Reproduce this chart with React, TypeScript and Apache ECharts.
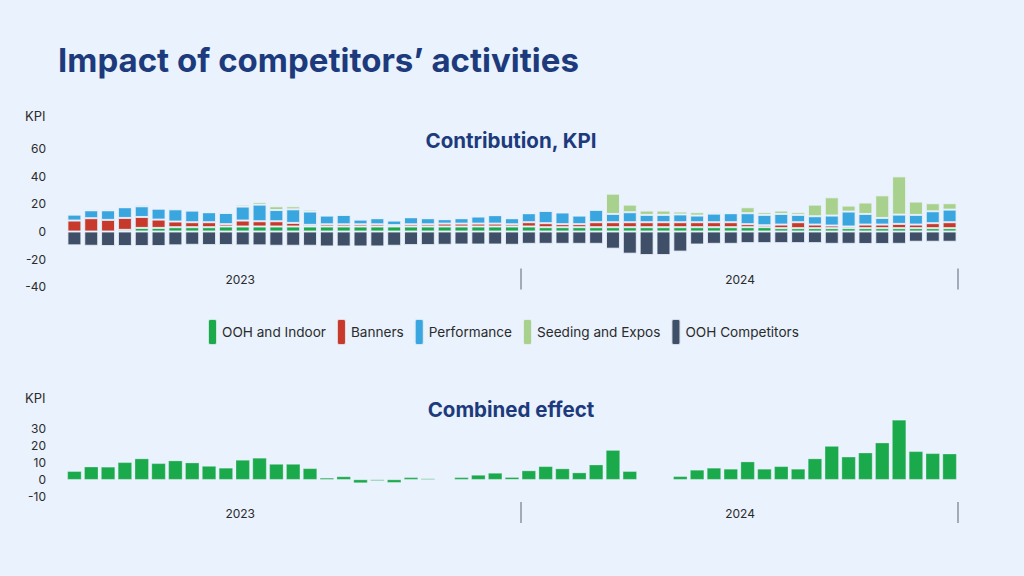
import React, { useEffect, useRef } from "react";
import * as echarts from "echarts";

const yearLabels = ["2023", "2024"];
const yearCounts = [27, 26];
const yearLabelPos = [10.35, 40.05];

const categories = Array.from({ length: 53 }, (_, i) =>
  i < 27 ? `2023-W${i + 26}` : `2024-W${i - 26}`
);

const oohIndoor = [
  0, 0, 0, 1.2, 2.6, 2.6, 3.1, 3.1, 3.1, 3.6, 3.6, 3.6, 3.6, 3.6, 3.6, 3.6, 3.6, 3.6, 3.6, 3.6, 3.6, 3.6, 3.6, 3.6, 3.6, 3.6, 3.6,
  3.6, 3.1, 3.1, 3.1, 3.1, 3.1, 3.1, 3.1, 3.1, 3.1, 3.1, 3.1, 3.1, 3.1, 3.1, 2.4, 2.4, 2.4, 2.4, 2.4, 2.4, 2.4, 2.4, 2.4, 2.4, 2.4,
];
const banners = [
  7.9, 9.6, 8.4, 8.6, 7.9, 6.0, 4.1, 3.6, 3.6, 1.7, 4.3, 3.8, 3.8, 2.6, 1.2, 1.6, 1.6, 1.6, 1.6, 1.0, 1.6, 1.6, 2.1, 2.1, 2.1, 2.1, 1.6,
  3.1, 2.9, 2.2, 2.2, 3.6, 3.6, 3.6, 3.6, 3.6, 3.6, 3.6, 3.6, 3.6, 2.2, 1.4, 2.6, 4.3, 2.6, 1.9, 1.2, 2.6, 2.6, 3.1, 2.6, 3.6, 4.3,
];
const performance = [
  4.3, 5.7, 6.9, 7.7, 7.7, 7.9, 8.8, 8.4, 7.2, 8.1, 10.1, 12.0, 8.1, 9.8, 9.6, 6.3, 6.8, 3.4, 4.4, 3.3, 5.1, 4.4, 3.2, 3.9, 5.1, 6.1, 4.4,
  6.5, 8.9, 8.4, 6.2, 8.9, 6.0, 7.2, 5.3, 5.3, 5.6, 4.8, 6.2, 6.5, 7.9, 7.5, 7.7, 5.3, 6.0, 7.2, 10.8, 7.7, 4.8, 6.7, 7.0, 8.6, 9.1,
];
const seedingExpos = [
  0, 0, 0, 0, 1.2, 0, 1.0, 0, 0, 0, 1.4, 1.9, 2.7, 2.2, 1.4, 0, 0, 0, 0, 0, 0, 0, 0, 0, 0, 0, 0,
  0, 0, 0, 0, 0.4, 14.6, 5.5, 3.1, 3.1, 2.1, 2.4, 1.2, 0, 4.3, 1.9, 2.4, 1.9, 8.4, 13.2, 4.3, 8.2, 16.3, 27.6, 9.6, 5.8, 4.6,
];
const oohCompetitors = [
  -10, -10.3, -10.5, -10.5, -10.5, -10.5, -10, -9.6, -9.8, -9.8, -10, -10, -10.3, -10.3, -10.3, -10.8, -10.8, -10.8, -10.8, -10.3, -9.8, -9.8, -9.6, -9.4, -9.4, -9.4, -9.6,
  -8.9, -8.9, -8.9, -8.9, -8.9, -12.4, -16, -17, -17, -14.5, -9.4, -8.9, -8.9, -8.4, -8.4, -8.4, -8.4, -8.4, -8.9, -8.9, -9, -9, -8.9, -7.4, -7.4, -7.4,
];
const combined = [
  4.9, 7.6, 7.5, 10.2, 12.4, 9.6, 11.2, 10, 8, 6.9, 11.6, 12.8, 9.2, 9.2, 6.6, 1.0, 1.8, -2, -0.7, -1.8, 1.3, 0.6, -0.3, 1.3, 2.7, 3.9, 1.4,
  5.3, 7.8, 6.5, 4.1, 8.8, 17.4, 4.9, 0, 0, 1.9, 5.7, 6.9, 6.3, 10.6, 6.3, 7.8, 6.3, 12.4, 19.8, 13.5, 15.9, 21.8, 35.3, 16.7, 15.5, 15.3,
];

const seriesNames = ["OOH and Indoor", "Banners", "Performance", "Seeding and Expos", "OOH Competitors"];
const seriesColors = ["#1aaa4b", "#c7392b", "#3aa6e0", "#a8d18d", "#3f4f68"];
const seriesData = [oohIndoor, banners, performance, seedingExpos, oohCompetitors];

const topTicks = { min: -40, max: 60, interval: 20 };
const bottomTicks = { min: -10, max: 40, interval: 10 };

const FONT = "Inter, 'Noto Sans', sans-serif";
const BG = "#e9f2fd";
const NAVY = "#1d3b7c";
const TEXT = "#2b2b2b";

export default function App() {
  const ref = useRef<HTMLDivElement>(null);
  useEffect(() => {
    document.body.style.margin = "0";
    const chart = echarts.init(ref.current!, undefined, { renderer: "svg" });
    const total = yearCounts.reduce((a, b) => a + b, 0);
    const boundaries: number[] = [];
    let acc = 0;
    yearCounts.forEach((c) => {
      acc += c;
      boundaries.push(acc);
    });
    const yearAxis = (gridIndex: number, offset: number, margin: number) => ({
      type: "value",
      gridIndex,
      position: "bottom",
      min: 0,
      max: total,
      offset,
      axisLine: { show: false },
      splitLine: { show: false },
      axisTick: {
        show: true,
        customValues: boundaries,
        length: 21,
        lineStyle: { color: "#8a93a1", width: 1.5 },
      },
      axisLabel: {
        customValues: yearLabelPos,
        margin,
        color: TEXT,
        fontSize: 12,
        fontFamily: FONT,
        formatter: (v: number) => {
          let a = 0;
          for (let i = 0; i < yearCounts.length; i++) {
            a += yearCounts[i];
            if (v < a) return yearLabels[i];
          }
          return "";
        },
      },
    });
    const valueAxisLabel = {
      color: TEXT,
      fontSize: 12,
      fontFamily: FONT,
      margin: 20,
    };
    const option: any = {
      animation: false,
      backgroundColor: BG,
      textStyle: { fontFamily: FONT },
      title: [
        {
          text: "Impact of competitors’ activities",
          left: 53,
          top: 38,
          textStyle: { fontSize: 33, fontWeight: "bold", color: NAVY, fontFamily: FONT },
        },
        {
          text: "Contribution, KPI",
          left: 506,
          top: 125,
          textAlign: "center",
          textStyle: { fontSize: 20.5, fontWeight: "bold", color: NAVY, fontFamily: FONT },
        },
        {
          text: "Combined effect",
          left: 506,
          top: 394,
          textAlign: "center",
          textStyle: { fontSize: 20.5, fontWeight: "bold", color: NAVY, fontFamily: FONT },
        },
      ],
      graphic: [
        {
          type: "text",
          left: 25,
          top: 109,
          style: { text: "KPI", fontSize: 13, fill: TEXT, fontFamily: FONT },
        },
        {
          type: "text",
          left: 25,
          top: 391,
          style: { text: "KPI", fontSize: 13, fill: TEXT, fontFamily: FONT },
        },
      ],
      legend: {
        data: seriesNames,
        left: 202,
        top: 313,
        icon: "roundRect",
        itemWidth: 9,
        itemHeight: 26,
        itemGap: 10,
        textStyle: { fontSize: 13.6, color: TEXT, fontFamily: FONT },
      },
      grid: [
        { left: 66, right: 66, top: 148.4, height: 138.5 },
        { left: 66, right: 66, top: 412, height: 84.5 },
      ],
      xAxis: [
        { type: "category", gridIndex: 0, data: categories, show: false },
        yearAxis(0, -18.5, 5),
        { type: "category", gridIndex: 1, data: categories, show: false },
        yearAxis(1, 5.5, 5),
      ],
      yAxis: [
        {
          type: "value",
          gridIndex: 0,
          ...topTicks,
          axisLine: { show: false },
          axisTick: { show: false },
          splitLine: { show: false },
          axisLabel: valueAxisLabel,
        },
        {
          type: "value",
          gridIndex: 1,
          ...bottomTicks,
          axisLine: { show: false },
          axisTick: { show: false },
          splitLine: { show: false },
          axisLabel: { ...valueAxisLabel, showMaxLabel: false },
        },
      ],
      series: [
        ...seriesNames.map((name, i) => ({
          name,
          type: "bar",
          stack: "contrib",
          xAxisIndex: 0,
          yAxisIndex: 0,
          barCategoryGap: "17%",
          data: seriesData[i],
          itemStyle: {
            color: seriesColors[i],
            borderColor: "rgba(235,242,252,0.85)",
            borderWidth: 1,
          },
        })),
        {
          name: "Combined effect",
          type: "bar",
          xAxisIndex: 2,
          yAxisIndex: 1,
          barCategoryGap: "17%",
          data: combined,
          itemStyle: {
            color: seriesColors[0],
            borderColor: "rgba(235,242,252,0.6)",
            borderWidth: 0.5,
          },
        },
      ],
    };
    chart.setOption(option);
    return () => chart.dispose();
  }, []);
  return <div ref={ref} style={{ width: 1024, height: 576 }} />;
}
